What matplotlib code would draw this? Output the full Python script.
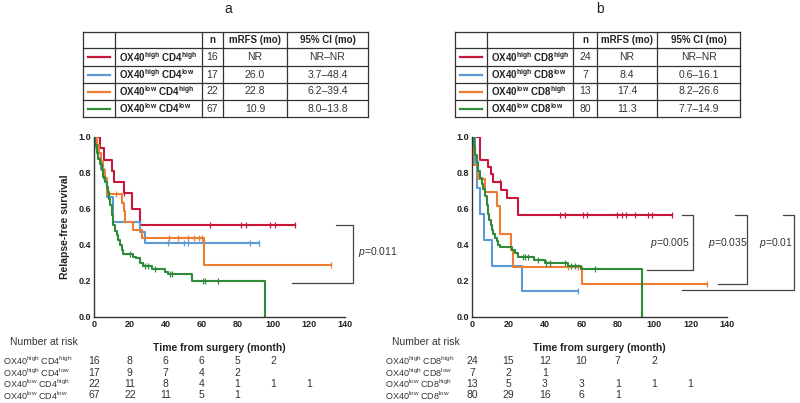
import numpy as np
import matplotlib
matplotlib.use("Agg")
import matplotlib.pyplot as plt
from matplotlib.lines import Line2D
import matplotlib.transforms as mtransforms

plt.rcParams['font.family'] = ['Liberation Sans', 'DejaVu Sans']
plt.rcParams['mathtext.fontset'] = 'custom'
plt.rcParams['mathtext.rm'] = 'Liberation Sans'
plt.rcParams['mathtext.it'] = 'Liberation Sans:italic'
plt.rcParams['mathtext.bf'] = 'Liberation Sans:bold'
plt.rcParams['mathtext.default'] = 'regular'

W, H = 800, 403
colors = ['#c8173a', '#5b9bd5', '#ed7d31', '#2e8b3a']
TXT = '#222222'

# ---------------- panel a data ----------------
a_labels = ['OX40$^{high}$ CD4$^{high}$', 'OX40$^{high}$ CD4$^{low}$',
            'OX40$^{low}$ CD4$^{high}$', 'OX40$^{low}$ CD4$^{low}$']
a_n = [16, 17, 22, 67]
a_mrfs = ['NR', '26.0', '22.8', '10.9']
a_ci = ['NR\u2013NR', '3.7\u201348.4', '6.2\u201339.4', '8.0\u201313.8']

a_red_t = [0, 3.4, 5.8, 10.2, 11.4, 16.5, 21.0, 25.7]
a_red_s = [1.0, 0.938, 0.875, 0.813, 0.75, 0.688, 0.60, 0.51]
a_red_cens = [17.0, 64.8, 82.1, 84.9, 98.3, 101.1]
a_red_end = 112

a_blue_t = [0, 1.0, 2.5, 4.0, 5.5, 7.0, 10.8, 25.7, 28.5]
a_blue_s = [1.0, 0.941, 0.882, 0.824, 0.765, 0.665, 0.53, 0.47, 0.41]
a_blue_cens = [41.5, 50.0, 52.7, 87.2]
a_blue_end = 92

a_orange_t = [0, 1.5, 3.0, 4.0, 5.0, 6.0, 7.5, 15.5, 16.5, 17.3, 22.0, 27.0, 61.5]
a_orange_s = [1.0, 0.955, 0.909, 0.864, 0.818, 0.773, 0.682, 0.636, 0.59, 0.53, 0.485, 0.437, 0.29]
a_orange_cens = [12.0, 42.0, 47.0, 52.7, 55.5, 58.3, 60.2]
a_orange_end = 132

a_green_t = [0, 0.6, 1.5, 2.4, 3.3, 4.3, 5.2, 6.1, 7.0, 8.0, 8.5, 8.9, 9.9, 10.8, 11.7,
             12.7, 13.6, 14.5, 15.5, 16.4, 22.0, 23.5, 25.7, 27.5, 32.2, 39.7, 41.5, 54.6, 95.5]
a_green_s = [1.0, 0.955, 0.91, 0.88, 0.85, 0.815, 0.78, 0.75, 0.72, 0.694, 0.655, 0.62, 0.565, 0.51, 0.48,
             0.454, 0.43, 0.40, 0.37, 0.35, 0.335, 0.326, 0.298, 0.283, 0.265, 0.252, 0.24, 0.20, 0.0]
a_green_cens = [20.0, 28.5, 30.3, 34.0, 42.5, 43.5, 61.0, 62.0, 69.4]
a_green_end = 95.5

a_risk = [[16, 8, 6, 6, 5, 2], [17, 9, 7, 4, 2], [22, 11, 8, 4, 1, 1, 1], [67, 22, 11, 5, 1]]
a_pvals = ['0.011']

# ---------------- panel b data ----------------
b_labels = ['OX40$^{high}$ CD8$^{high}$', 'OX40$^{high}$ CD8$^{low}$',
            'OX40$^{low}$ CD8$^{high}$', 'OX40$^{low}$ CD8$^{low}$']
b_n = [24, 7, 13, 80]
b_mrfs = ['NR', '8.4', '17.4', '11.3']
b_ci = ['NR\u2013NR', '0.6\u201316.1', '8.2\u201326.6', '7.7\u201314.9']

b_red_t = [0, 4.3, 8.8, 10.3, 11.7, 15.8, 19.0, 25.2]
b_red_s = [1.0, 0.875, 0.833, 0.792, 0.75, 0.708, 0.66, 0.567]
b_red_cens = [15.2, 48.3, 51.1, 61.1, 63.0, 79.5, 82.2, 84.4, 89.5, 96.8, 98.7]
b_red_end = 110

b_blue_t = [0, 1.5, 2.6, 4.4, 6.8, 10.8, 27.3]
b_blue_s = [1.0, 0.857, 0.714, 0.571, 0.429, 0.286, 0.143]
b_blue_cens = []
b_blue_end = 58

b_orange_t = [0, 0.3, 3.5, 7.0, 13.9, 15.6, 21.2, 22.5, 60.5]
b_orange_s = [1.0, 0.846, 0.769, 0.692, 0.615, 0.462, 0.37, 0.277, 0.185]
b_orange_cens = [52.7, 58.2]
b_orange_end = 129

b_green_t = [0, 1.0, 1.8, 2.6, 3.5, 4.4, 5.3, 6.2, 7.1, 8.0, 8.8, 9.5, 10.3, 11.0, 11.8, 12.6,
             13.5, 14.4, 15.4, 21.7, 23.5, 25.3, 34.0, 39.9, 52.7, 60.0, 93.2]
b_green_s = [1.0, 0.95, 0.90, 0.86, 0.81, 0.775, 0.74, 0.71, 0.675, 0.625, 0.575, 0.54, 0.51, 0.485, 0.46, 0.44,
             0.42, 0.40, 0.39, 0.372, 0.354, 0.335, 0.317, 0.298, 0.285, 0.267, 0.0]
b_green_cens = [28.0, 29.0, 30.8, 36.2, 40.8, 42.7, 51.0, 54.5, 56.4, 67.4]
b_green_end = 93.2

b_risk = [[24, 15, 12, 10, 7, 2], [7, 2, 1], [13, 5, 3, 3, 1, 1, 1], [80, 29, 16, 6, 1]]
b_pvals = ['0.005', '0.035', '0.01']

risk_times = [0, 20, 40, 60, 80, 100, 120]


def px(x):
    return x / W


def py(y):
    return 1 - y / H


def draw_table(fig, xs, ys, labels, n, mrfs, ci):
    for x in xs:
        fig.add_artist(Line2D([px(x)] * 2, [py(ys[0]), py(ys[-1])], color='#333333', lw=0.9))
    for y in ys:
        fig.add_artist(Line2D([px(xs[0]), px(xs[-1])], [py(y)] * 2, color='#333333', lw=0.9))
    heads = ['n', 'mRFS (mo)', '95% CI (mo)']
    for j, h in enumerate(heads):
        cx = (xs[j + 2] + xs[j + 3]) / 2
        fig.text(px(cx), py((ys[0] + ys[1]) / 2), h, ha='center', va='center',
                 fontsize=7, fontweight='bold', color=TXT)
    for i in range(4):
        cy = (ys[i + 1] + ys[i + 2]) / 2
        fig.add_artist(Line2D([px(xs[0] + 5), px(xs[1] - 5)], [py(cy)] * 2, color=colors[i], lw=1.6))
        fig.text(px(xs[1] + 4), py(cy), labels[i], ha='left', va='center',
                 fontsize=7, fontweight='bold', color=TXT)
        for j, v in enumerate([str(n[i]), mrfs[i], ci[i]]):
            cx = (xs[j + 2] + xs[j + 3]) / 2
            fig.text(px(cx), py(cy), v, ha='center', va='center', fontsize=7.5, color='#333333')


def km_at(t, s, x):
    idx = np.searchsorted(t, x, side='right') - 1
    return np.asarray(s)[idx]


def draw_km(ax, curves):
    for (t, s, cens, end), c in zip(curves, colors):
        tt = list(t) + [end]
        ss = list(s) + [s[-1]]
        ax.step(tt, ss, where='post', color=c, lw=1.5)
        marks = list(cens) + ([end] if s[-1] > 0 else [])
        if marks:
            ax.plot(marks, km_at(t, s, marks), '|', color=c, ms=5, mew=0.9)
    ax.set_xlim(0, 140)
    ax.set_ylim(0, 1.0)
    ax.set_xticks(range(0, 141, 20))
    ax.set_yticks(np.arange(0, 1.01, 0.2))
    ax.set_yticklabels(['%.1f' % v for v in np.arange(0, 1.01, 0.2)])
    for sp in ['top', 'right']:
        ax.spines[sp].set_visible(False)
    for sp in ['left', 'bottom']:
        ax.spines[sp].set_color('#333333')
        ax.spines[sp].set_linewidth(1.0)
    ax.tick_params(length=0, pad=2, labelsize=6.5, colors=TXT)
    for lab in ax.get_xticklabels() + ax.get_yticklabels():
        lab.set_fontweight('bold')
    ax.set_xlabel('Time from surgery (month)', fontsize=7.5, fontweight='bold', color=TXT, labelpad=10)


def bracket(ax, x_top0, x_v, y_top, y_bot, x_bot0):
    ax.plot([x_top0, x_v, x_v, x_bot0], [y_top, y_top, y_bot, y_bot],
            color='#444444', lw=0.9, clip_on=False)


def draw_risk(fig, ax, labels, risk, x_label):
    fig.text(px(x_label + 7), py(342), 'Number at risk', fontsize=7.5, color='#333333', va='center')
    trans = mtransforms.blended_transform_factory(ax.transData, fig.transFigure)
    rows_y = [361, 372.5, 384, 395.5]
    for i in range(4):
        fig.text(px(x_label), py(rows_y[i]), labels[i], fontsize=6.5, color='#333333', va='center')
        for tm, v in zip(risk_times, risk[i]):
            ax.text(tm, py(rows_y[i]), str(v), transform=trans, ha='center', va='center',
                    fontsize=7.5, color='#333333', clip_on=False)


fig = plt.figure(figsize=(8, 4.03), dpi=100)

# panel a
ax_a = fig.add_axes([px(94), py(317), px(345 - 94), (317 - 137) / H])
draw_km(ax_a, [(a_red_t, a_red_s, a_red_cens, a_red_end),
               (a_blue_t, a_blue_s, a_blue_cens, a_blue_end),
               (a_orange_t, a_orange_s, a_orange_cens, a_orange_end),
               (a_green_t, a_green_s, a_green_cens, a_green_end)])
ax_a.set_ylabel('Relapse-free survival', fontsize=7.5, fontweight='bold', color=TXT, labelpad=6)
bracket(ax_a, 135, 144.7, 0.511, 0.187, 110.6)
ax_a.text(147.5, 0.36, r'$\mathit{p}$=' + a_pvals[0], fontsize=7.5, color='#333333', va='center',
          clip_on=False)
draw_table(fig, [83, 115, 202, 223, 287, 368], [32, 48, 66, 83, 100, 117], a_labels, a_n, a_mrfs, a_ci)
fig.text(px(228), py(9), 'a', ha='center', va='center', fontsize=10, color=TXT)
draw_risk(fig, ax_a, a_labels, a_risk, 3)

# panel b
ax_b = fig.add_axes([px(472), py(317), px(727 - 472), (317 - 137) / H])
draw_km(ax_b, [(b_red_t, b_red_s, b_red_cens, b_red_end),
               (b_blue_t, b_blue_s, b_blue_cens, b_blue_end),
               (b_orange_t, b_orange_s, b_orange_cens, b_orange_end),
               (b_green_t, b_green_s, b_green_cens, b_green_end)])
bracket(ax_b, 115.3, 121.4, 0.567, 0.261, 96.1)
bracket(ax_b, 144.4, 151.0, 0.567, 0.183, 135.1)
bracket(ax_b, 170.8, 176.8, 0.567, 0.150, 115.3)
for xt, p in zip([98.0, 129.5, 157.5], b_pvals):
    ax_b.text(xt, 0.41, r'$\mathit{p}$=' + p, fontsize=7.5, color='#333333', va='center', clip_on=False)
draw_table(fig, [455, 487, 573, 597, 657, 740], [32, 48, 66, 83, 100, 117], b_labels, b_n, b_mrfs, b_ci)
fig.text(px(600), py(9), 'b', ha='center', va='center', fontsize=10, color=TXT)
draw_risk(fig, ax_b, b_labels, b_risk, 385)

fig.savefig('out.png', dpi=100)
